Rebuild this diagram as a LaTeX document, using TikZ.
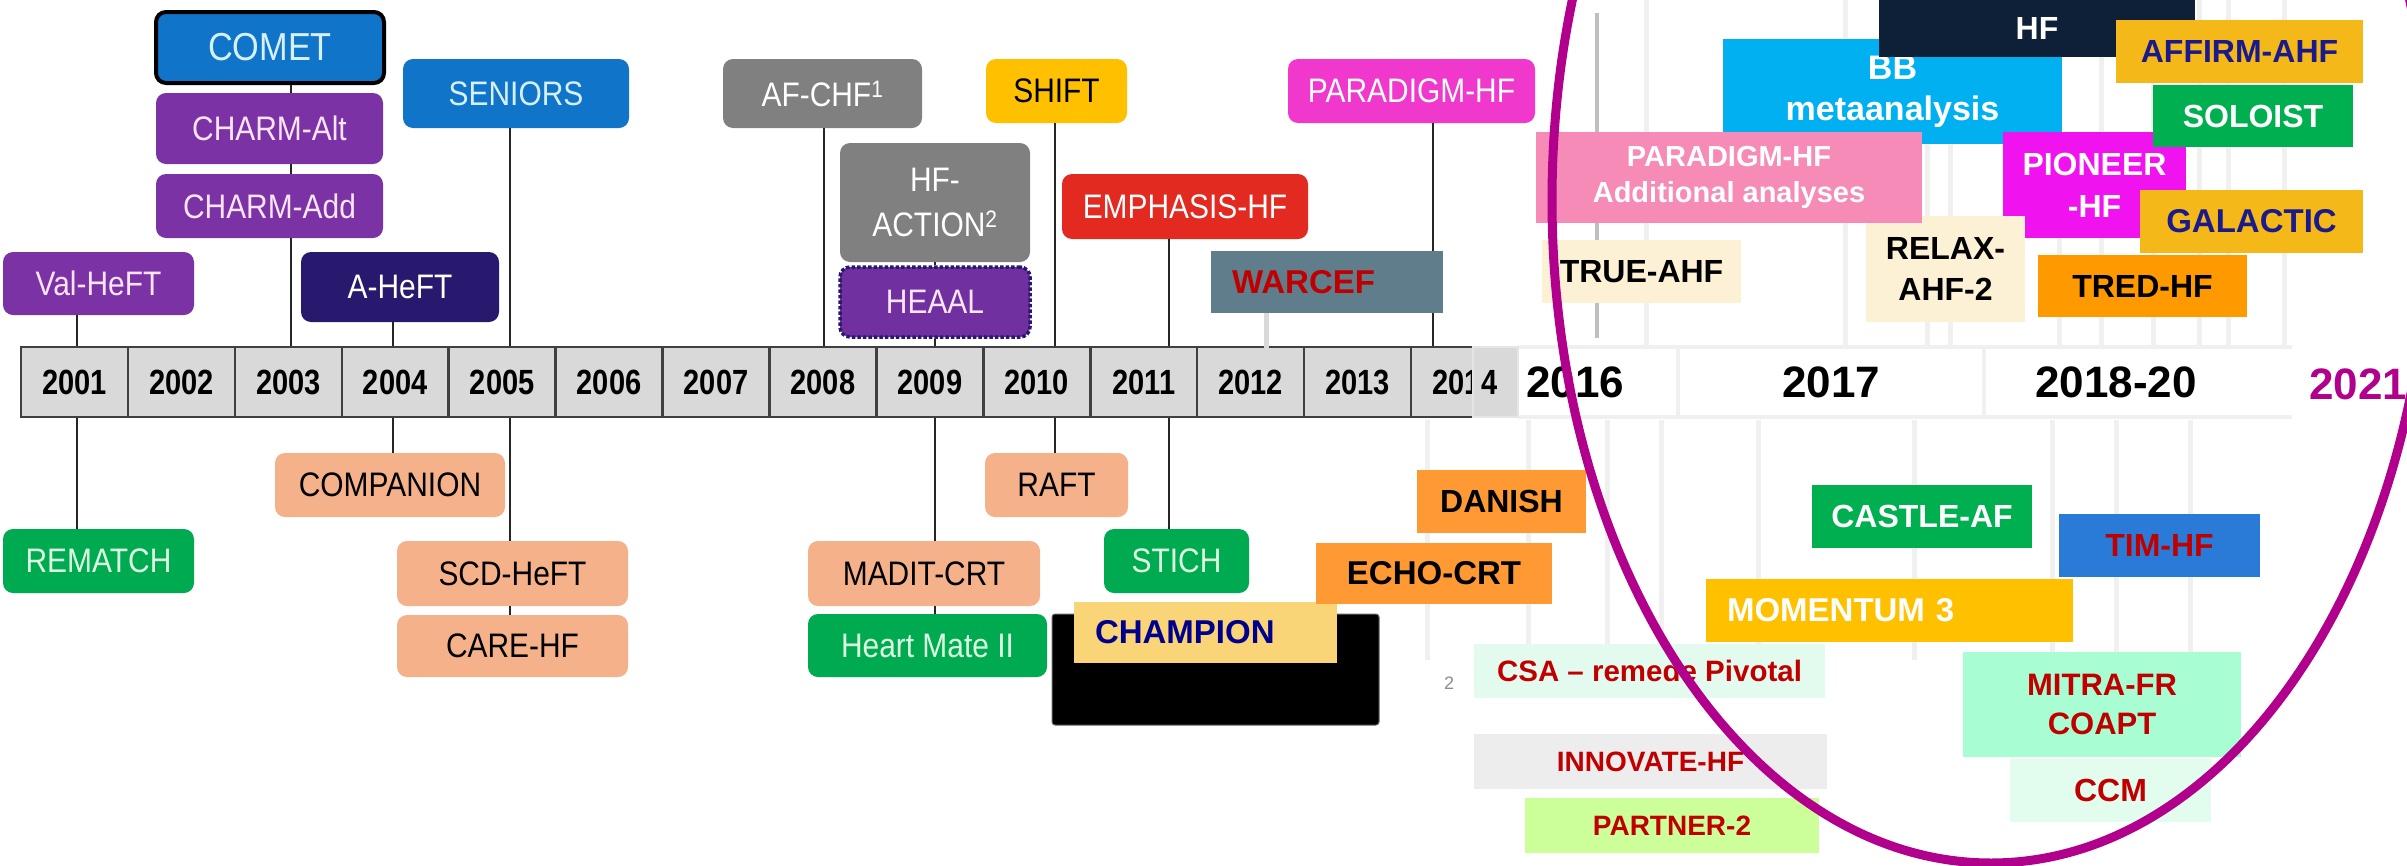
\documentclass[tikz,border=0pt]{standalone}
\usepackage{fontspec}
\setmainfont{Liberation Sans}
\newfontfamily\lf[FakeStretch=0.88]{Liberation Sans}
\newfontfamily\yf[FakeStretch=0.83]{Liberation Sans}
\newfontfamily\rf{Liberation Sans}
\newcommand\fsz[2]{\fontsize{#1}{#2}\selectfont}
\definecolor{blueL}{RGB}{16,117,200}
\definecolor{blueT}{RGB}{215,240,255}
\definecolor{purpL}{RGB}{123,50,165}
\definecolor{purpT}{RGB}{250,228,250}
\definecolor{navyL}{RGB}{40,24,110}
\definecolor{grayL}{RGB}{128,128,128}
\definecolor{heaalC}{RGB}{112,48,160}
\definecolor{shiftC}{RGB}{255,192,0}
\definecolor{emphC}{RGB}{226,42,32}
\definecolor{paraC}{RGB}{240,56,204}
\definecolor{salmon}{RGB}{244,177,138}
\definecolor{greenL}{RGB}{0,170,80}
\definecolor{greenT}{RGB}{220,255,225}
\definecolor{cellC}{RGB}{217,217,217}
\definecolor{warcefC}{RGB}{96,125,139}
\definecolor{darkred}{RGB}{192,0,0}
\definecolor{champC}{RGB}{249,213,119}
\definecolor{navyT}{RGB}{0,0,140}
\definecolor{orangeA}{RGB}{255,153,51}
\definecolor{hfC}{RGB}{14,32,56}
\definecolor{bbC}{RGB}{0,176,240}
\definecolor{goldC}{RGB}{244,185,25}
\definecolor{greenR}{RGB}{0,176,80}
\definecolor{pinkC}{RGB}{247,139,184}
\definecolor{magC}{RGB}{240,18,239}
\definecolor{creamC}{RGB}{253,241,213}
\definecolor{tredC}{RGB}{255,153,0}
\definecolor{timC}{RGB}{42,123,216}
\definecolor{momC}{RGB}{255,192,0}
\definecolor{csaC}{RGB}{226,251,238}
\definecolor{mitraC}{RGB}{169,253,211}
\definecolor{innC}{RGB}{237,237,237}
\definecolor{ccmC}{RGB}{226,252,238}
\definecolor{partC}{RGB}{204,255,153}
\definecolor{ellC}{RGB}{176,0,140}
\definecolor{affT}{RGB}{26,26,140}
\newcommand\mybox[7]{\node[#1, minimum width={(#5-#3)*1pt}, minimum height={(#6-#4)*1pt}] (#2) at ({(#3+#5)/2},{(#4+#6)/2}) {#7};}
\begin{document}
\begin{tikzpicture}[x=1pt,y=-1pt,
  lbox/.style={rounded corners=10pt, inner sep=0pt, align=center, font=\lf\fsz{34}{45}},
  rbox/.style={inner sep=0pt, align=center, font=\rf\bfseries\fsz{32}{41}},
  conn/.style={line width=2.5pt, draw=black!85},
  cell/.style={draw=black!75, line width=2.5pt, fill=cellC, minimum height=70pt, minimum width=106.93pt, inner sep=0pt, font=\yf\bfseries\fsz{35}{35}},
  faint/.style={draw=black!6, line width=5pt}]
\useasboundingbox (0,0) rectangle (2407,865);
\fill[white] (0,0) rectangle (2407,865);
% faint grid on the right
\foreach \xx in {1646,1845,1927,1950,2059,2101,2153,2199,2228,2284}{\draw[faint] (\xx,0) -- (\xx,345);}
\foreach \xx in {1427,1528,1607,1661,1758,1914,2052,2116,2190}{\draw[faint] (\xx,420) -- (\xx,660);}
\draw[faint,line width=4pt] (1518,347) -- (2292,347);
\draw[faint,line width=4pt] (1518,417) -- (2292,417);
\draw[faint,line width=4pt] (1678,347) -- (1678,417);
\draw[faint,line width=4pt] (1984,347) -- (1984,417);
\draw[draw=black!25, line width=4pt] (1597,13) -- (1597,338);
% year cells
\foreach \i in {0,...,13}{
  \pgfmathtruncatemacro{\yr}{2001+\i}
  \node[cell] (y\yr) at ({21+106.93*(\i+0.5)},382) {\yr};
}
\mybox{cell,draw=black!10,line width=2pt,align=left,text width=29pt}{ovl}{1473}{347}{1518}{417}{4}
% connector anchor points
\coordinate (c01) at ([xshift=2.5pt]y2001.north); \coordinate (d01) at ([xshift=2.5pt]y2001.south);
\coordinate (c03) at ([xshift=2.7pt]y2003.north);
\coordinate (c04) at ([xshift=-2.3pt]y2004.north); \coordinate (d04) at ([xshift=-2.3pt]y2004.south);
\coordinate (c05) at ([xshift=7.8pt]y2005.north); \coordinate (d05) at ([xshift=7.8pt]y2005.south);
\coordinate (c08) at ([xshift=1pt]y2008.north);
\coordinate (c09) at ([xshift=5pt]y2009.north); \coordinate (d09) at ([xshift=5pt]y2009.south);
\coordinate (c10) at ([xshift=18pt]y2010.north); \coordinate (d10) at ([xshift=18pt]y2010.south);
\coordinate (c11) at ([xshift=25pt]y2011.north); \coordinate (d11) at ([xshift=25pt]y2011.south);
\coordinate (c12) at ([xshift=16pt,yshift=-6pt]y2012.north);
\coordinate (c14) at ([xshift=-31.6pt]y2014.north);
% left boxes (top)
\mybox{lbox,fill=blueL,text=blueT,draw=black,line width=4pt,font=\lf\fsz{39}{44}}{comet}{156}{12}{384}{83}{COMET}
\mybox{lbox,fill=purpL,text=purpT}{charmalt}{156}{93}{383}{164}{CHARM-Alt}
\mybox{lbox,fill=purpL,text=purpT}{charmadd}{156}{174}{383}{238}{CHARM-Add}
\mybox{lbox,fill=blueL,text=blueT}{seniors}{403}{59}{629}{128}{SENIORS}
\mybox{lbox,fill=purpL,text=purpT}{valheft}{3}{252}{194}{315}{Val-HeFT}
\mybox{lbox,fill=navyL,text=white}{aheft}{301}{252}{499}{322}{A-HeFT}
\mybox{lbox,fill=grayL,text=white}{afchf}{723}{59}{922}{128}{AF-CHF\textsuperscript{1}}
\mybox{lbox,fill=grayL,text=white}{hfaction}{840}{143}{1030}{262}{HF-\\ACTION\textsuperscript{2}}
\mybox{lbox,fill=heaalC,text=purpT,draw=navyL,line width=3.5pt,dotted}{heaal}{840}{267}{1030}{337}{HEAAL}
\mybox{lbox,fill=shiftC,text=black}{shift}{986}{59}{1127}{123}{SHIFT}
\mybox{lbox,fill=emphC,text=white}{emph}{1062}{174}{1308}{239}{EMPHASIS-HF}
\mybox{lbox,fill=paraC,text=white}{paradigm}{1288}{59}{1535}{123}{PARADIGM-HF}
% left boxes (bottom)
\mybox{lbox,fill=greenL,text=greenT}{rematch}{3}{529}{194}{593}{REMATCH}
\mybox{lbox,fill=salmon,text=black}{companion}{275}{453}{505}{517}{COMPANION}
\mybox{lbox,fill=salmon,text=black}{scdheft}{397}{541}{628}{606}{SCD-HeFT}
\mybox{lbox,fill=salmon,text=black}{carehf}{397}{615}{628}{677}{CARE-HF}
\mybox{lbox,fill=salmon,text=black}{madit}{808}{541}{1040}{606}{MADIT-CRT}
\mybox{lbox,fill=greenL,text=greenT}{heartmate}{808}{614}{1047}{677}{Heart Mate II}
\mybox{lbox,fill=salmon,text=black}{raft}{985}{453}{1128}{517}{RAFT}
\mybox{lbox,fill=greenL,text=greenT}{stich}{1104}{529}{1249}{593}{STICH}
% connectors
\draw[conn] (c01 |- valheft.south) -- (c01);
\draw[conn] (d01) -- (d01 |- rematch.north);
\draw[conn] (c03 |- comet.south) -- (c03 |- charmalt.north);
\draw[conn] (c03 |- charmalt.south) -- (c03 |- charmadd.north);
\draw[conn] (c03 |- charmadd.south) -- (c03);
\draw[conn] (c04 |- aheft.south) -- (c04);
\draw[conn] (d04) -- (d04 |- companion.north);
\draw[conn] (c05 |- seniors.south) -- (c05);
\draw[conn] (d05) -- (d05 |- scdheft.north);
\draw[conn] (d05 |- scdheft.south) -- (d05 |- carehf.north);
\draw[conn] (c08 |- afchf.south) -- (c08);
\draw[conn] (c09 |- hfaction.south) -- (c09 |- heaal.north);
\draw[conn] (c09 |- heaal.south) -- (c09);
\draw[conn] (d09) -- (d09 |- madit.north);
\draw[conn] (d09 |- madit.south) -- (d09 |- heartmate.north);
\draw[conn] (c10 |- shift.south) -- (c10);
\draw[conn] (d10) -- (d10 |- raft.north);
\draw[conn] (c11 |- emph.south) -- (c11);
\draw[conn] (d11) -- (d11 |- stich.north);
\draw[conn] (c14 |- paradigm.south) -- (c14);
% WARCEF and CHAMPION
\mybox{rbox,fill=warcefC,text=darkred,align=left,text width=190pt,font=\rf\bfseries\fsz{33}{33}}{warcef}{1211}{251}{1443}{313}{WARCEF}
\draw[draw=black!15, line width=5pt] (c12 |- warcef.south) -- (c12);
\mybox{fill=black,draw=black!60,line width=1pt,rounded corners=3pt,inner sep=0pt}{blackbox}{1052}{614}{1379}{725}{}
\mybox{rbox,fill=champC,text=navyT,align=left,text width=221pt,font=\rf\bfseries\fsz{33}{33}}{champion}{1074}{602}{1337}{663}{CHAMPION}
% right boxes (top)
\mybox{rbox,fill=bbC,text=white,font=\rf\bfseries\fsz{34}{41}}{bb}{1723}{39}{2062}{144}{BB\\metaanalysis}
\mybox{rbox,fill=hfC,text=white}{hf}{1879}{0}{2195}{57}{HF}
\mybox{rbox,fill=goldC,text=affT}{affirm}{2116}{20}{2363}{83}{AFFIRM-AHF}
\mybox{rbox,fill=magC,text=white,font=\rf\bfseries\fsz{32}{42}}{pioneer}{2003}{132}{2186}{238}{PIONEER\\-HF}
\mybox{rbox,fill=greenR,text=white}{soloist}{2153}{85}{2353}{147}{SOLOIST}
\mybox{rbox,fill=goldC,text=affT,font=\rf\bfseries\fsz{33}{33}}{galactic}{2140}{190}{2363}{253}{GALACTIC}
\mybox{rbox,fill=creamC,text=black}{relax}{1866}{216}{2025}{322}{RELAX-\\AHF-2}
\mybox{rbox,fill=pinkC,text=white,font=\rf\bfseries\fsz{29}{36}}{paradd}{1536}{132}{1922}{223}{PARADIGM-HF\\Additional analyses}
\mybox{rbox,fill=creamC,text=black}{trueahf}{1542}{240}{1741}{303}{TRUE-AHF}
\mybox{rbox,fill=tredC,text=black}{tred}{2038}{255}{2247}{317}{TRED-HF}
% right boxes (bottom)
\mybox{rbox,fill=orangeA,text=black}{danish}{1417}{470}{1586}{533}{DANISH}
\mybox{rbox,fill=orangeA,text=black,font=\rf\bfseries\fsz{33}{33}}{echocrt}{1316}{543}{1552}{604}{ECHO-CRT}
\mybox{rbox,fill=greenR,text=white}{castle}{1812}{485}{2032}{548}{CASTLE-AF}
\mybox{rbox,fill=timC,text=darkred}{timhf}{2059}{514}{2260}{577}{TIM-HF}
\mybox{rbox,fill=momC,text=white,align=left,text width=325pt,font=\rf\bfseries\fsz{33}{33}}{momentum}{1706}{579}{2073}{642}{MOMENTUM 3}
\mybox{rbox,fill=csaC,text=darkred,font=\rf\bfseries\fsz{29.5}{30}}{csa}{1474}{644}{1825}{698}{CSA – remede Pivotal}
\mybox{rbox,fill=mitraC,text=darkred,font=\rf\bfseries\fsz{31}{39}}{mitra}{1963}{652}{2241}{757}{MITRA-FR\\COAPT}
\mybox{rbox,fill=innC,text=darkred,font=\rf\bfseries\fsz{28}{28}}{innovate}{1474}{734}{1827}{789}{INNOVATE-HF}
\mybox{rbox,fill=ccmC,text=darkred}{ccm}{2010}{759}{2211}{822}{CCM}
\mybox{rbox,fill=partC,text=darkred,font=\rf\bfseries\fsz{28}{28}}{partner}{1525}{798}{1819}{853}{PARTNER-2}
\node[text=black!45, font=\rf\fsz{18}{18}] (two) at (1449,683) {2};
% right year labels
\node[font=\rf\bfseries\fsz{44}{44}] (r2016) at (1575,382) {2016};
\node[font=\rf\bfseries\fsz{44}{44}] (r2017) at (1831,382) {2017};
\node[font=\rf\bfseries\fsz{44}{44}] (r2018) at (2116,382) {2018-20};
\node[font=\rf\bfseries\fsz{44}{44}, text=ellC] (r2021) at (2358,384) {2021};
% ellipse
\draw[draw=ellC, line width=9pt] (1991,200) ellipse [x radius=439pt, y radius=663pt];
\end{tikzpicture}
\end{document}
